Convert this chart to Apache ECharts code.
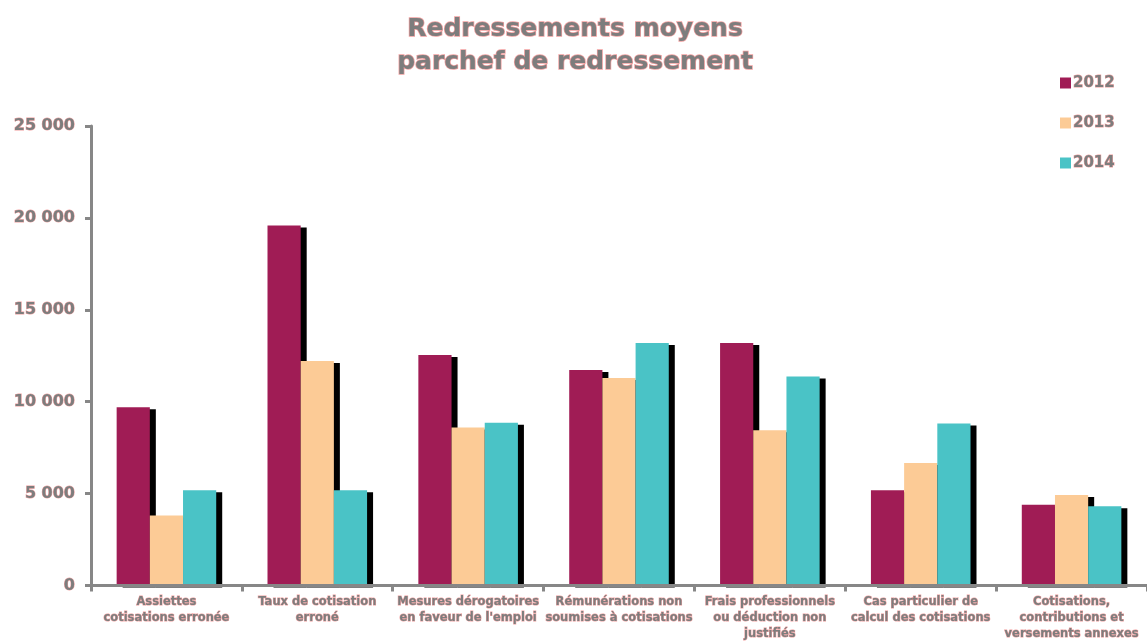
<!DOCTYPE html>
<html>
<head>
<meta charset="utf-8">
<script src="https://cdn.jsdelivr.net/npm/echarts@6/dist/echarts.min.js"></script>
<style>html,body{margin:0;padding:0;background:#fff}#c{width:1147px;height:643px}</style>
</head>
<body>
<div id="c"></div>
<script>
const categories = [
  "Assiettes\ncotisations erronée",
  "Taux de cotisation\nerroné",
  "Mesures dérogatoires\nen faveur de l'emploi",
  "Rémunérations non\nsoumises à cotisations",
  "Frais professionnels\nou déduction non\njustifiés",
  "Cas particulier de\ncalcul des cotisations",
  "Cotisations,\ncontributions et\nversements annexes"
];
const seriesNames = ["2012", "2013", "2014"];
const values2012 = [9700, 19590, 12540, 11720, 13200, 5180, 4400];
const values2013 = [3810, 12210, 8600, 11290, 8440, 6660, 4920];
const values2014 = [5180, 5180, 8860, 13200, 11375, 8810, 4310];
const colors = ["#A01C55", "#FCCB96", "#4AC3C6"];

const txt = {
  fontFamily: "DejaVu Sans",
  fontWeight: "bold",
  color: "#7d7d7d",
  textBorderColor: "rgba(232,95,95,0.6)",
  textBorderWidth: 1
};
const axisGray = "#878787";

function mkSeries(name, data, color) {
  return {
    name: name,
    type: "bar",
    data: data,
    barGap: "0%",
    barCategoryGap: "34%",
    itemStyle: {
      color: color,
      shadowColor: "#000",
      shadowBlur: 0,
      shadowOffsetX: 6,
      shadowOffsetY: 2
    },
    emphasis: { disabled: true }
  };
}

const chart = echarts.init(document.getElementById("c"), null, { renderer: "canvas" });
chart.setOption({
  animation: false,
  backgroundColor: "#fff",
  title: {
    text: "Redressements moyens\nparchef de redressement",
    left: 570,
    textAlign: "center",
    top: 8,
    textStyle: Object.assign({}, txt, { fontSize: 25, lineHeight: 33, textBorderWidth: 1.5 })
  },
  legend: {
    orient: "vertical",
    left: 1055,
    top: 70,
    itemWidth: 11,
    itemHeight: 11,
    itemGap: 24,
    icon: "rect",
    data: seriesNames,
    textStyle: Object.assign({}, txt, { fontSize: 15, lineHeight: 16, padding: [0, 0, 0, -3] })
  },
  grid: { left: 91, right: 0, top: 126, bottom: 57.5, containLabel: false },
  xAxis: {
    type: "category",
    data: categories,
    z: 5,
    axisLine: { lineStyle: { color: axisGray, width: 3 } },
    axisTick: { show: true, length: 6, lineStyle: { color: axisGray, width: 3 } },
    axisLabel: Object.assign({}, txt, { fontSize: 11.5, lineHeight: 16, margin: 9, interval: 0 })
  },
  yAxis: {
    type: "value",
    min: 0,
    max: 25000,
    interval: 5000,
    z: 5,
    axisLine: { show: true, lineStyle: { color: axisGray, width: 3 } },
    axisTick: { show: true, length: 6, lineStyle: { color: axisGray, width: 3 } },
    splitLine: { show: false },
    axisLabel: Object.assign({}, txt, {
      fontSize: 16,
      margin: 16,
      formatter: function (v) {
        return String(v).replace(/\B(?=(\d{3})+(?!\d))/g, " ");
      }
    })
  },
  series: [
    mkSeries(seriesNames[0], values2012, colors[0]),
    mkSeries(seriesNames[1], values2013, colors[1]),
    mkSeries(seriesNames[2], values2014, colors[2])
  ]
});
</script>
</body>
</html>
